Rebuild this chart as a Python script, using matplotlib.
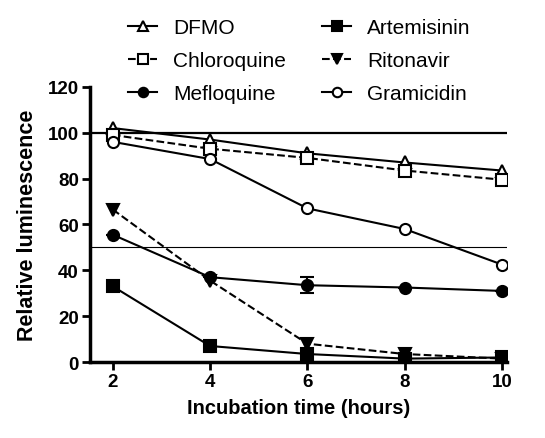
import matplotlib
matplotlib.use("Agg")
import matplotlib.pyplot as plt

# ---- Data ----
hours = [2, 4, 6, 8, 10]
dfmo = [102, 97, 91, 87, 83.5]
chloroquine = [99, 93, 89, 83.5, 79.5]
mefloquine = [55.5, 37, 33.5, 32.5, 31]
mefloquine_err = [0, 0, 3.5, 0, 0]
artemisinin = [33, 7, 3.5, 1.5, 2]
ritonavir = [66.5, 35.5, 8, 3.5, 1.5]
gramicidin = [96, 88.5, 67, 58, 42.5]

plt.rcParams["font.family"] = ["Liberation Sans", "DejaVu Sans"]

fig = plt.figure(figsize=(5.45, 4.39), dpi=100)
ax = fig.add_axes([0.165, 0.173, 0.765, 0.627])

ax.axhline(100, color="black", lw=1.6, zorder=1)
ax.axhline(50, color="black", lw=0.8, zorder=1)

common = dict(color="black", lw=1.5, markersize=8, markeredgewidth=1.5)
ax.plot(hours, dfmo, "-", marker="^", mfc="white", label="DFMO", **common)
ax.plot(hours, chloroquine, "--", marker="s", mfc="white", label="Chloroquine", **common)
ax.plot(hours, mefloquine, "-", marker="o", label="Mefloquine", **common)
ax.errorbar(hours, mefloquine, yerr=mefloquine_err, fmt="none", ecolor="black",
            capsize=5, elinewidth=1.5, capthick=1.5)
ax.plot(hours, artemisinin, "-", marker="s", label="Artemisinin", **common)
ax.plot(hours, ritonavir, "--", marker="v", label="Ritonavir", **common)
ax.plot(hours, gramicidin, "-", marker="o", mfc="white", label="Gramicidin", **common)

ax.set_xlim(1.53, 10.1)
ax.set_ylim(0, 120)
ax.set_xticks(hours)
ax.set_yticks(range(0, 121, 20))
for s in ["top", "right"]:
    ax.spines[s].set_visible(False)
for s in ["left", "bottom"]:
    ax.spines[s].set_linewidth(2.5)
ax.tick_params(width=2, length=6, pad=2, labelsize=13.5)
for lab in ax.get_xticklabels() + ax.get_yticklabels():
    lab.set_fontweight("bold")

ax.set_xlabel("Incubation time (hours)", fontsize=14.5, fontweight="bold", labelpad=6)
ax.set_ylabel("Relative luminescence", fontsize=15.5, fontweight="bold", labelpad=7)

handles, labels = ax.get_legend_handles_labels()
fig.legend(handles, labels, loc="upper left", bbox_to_anchor=(128 / 545, 1 - 19 / 439),
           ncol=2, frameon=False, fontsize=15, handlelength=1.4, columnspacing=1.75,
           labelspacing=0.68, handletextpad=0.75, borderpad=0, borderaxespad=0,
           markerscale=0.85)

fig.savefig("out.png", dpi=100)
